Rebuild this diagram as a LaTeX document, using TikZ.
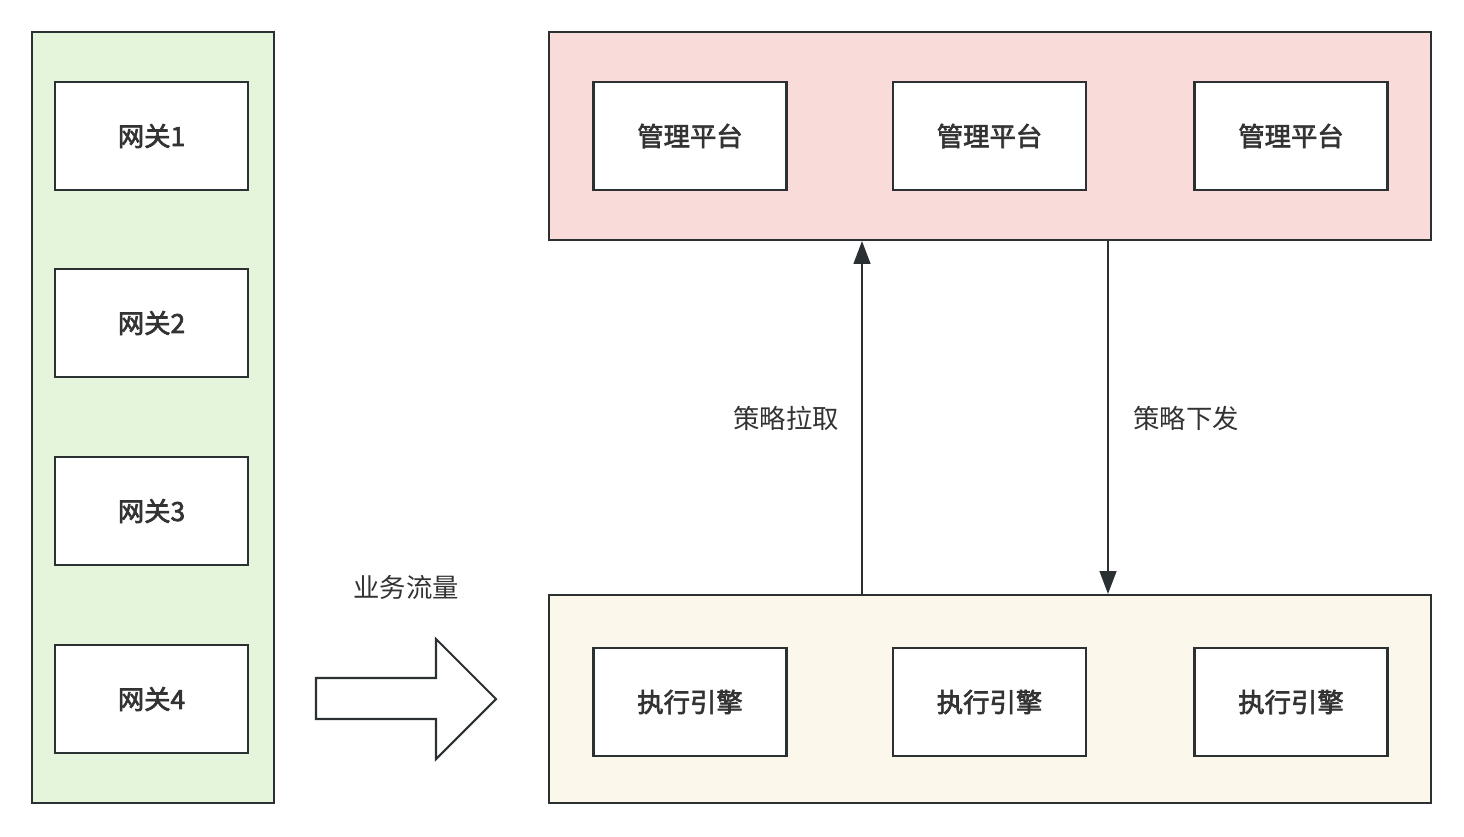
\documentclass[tikz,border=0pt]{standalone}
\usepackage{fontspec}
\setmainfont{Noto Sans CJK SC}
\newfontfamily\medfont[FakeBold=2.5]{Noto Sans CJK SC}
\usetikzlibrary{arrows.meta}
\definecolor{strk}{HTML}{2B3033}
\definecolor{txt}{HTML}{333333}
\definecolor{gfill}{HTML}{E4F5DC}
\definecolor{pfill}{HTML}{F9DCDA}
\definecolor{yfill}{HTML}{FBF7EA}
\tikzset{
  px/.style={x=0.02cm,y=-0.02cm},
  grp/.style={draw=strk,line width=1.2pt},
  box/.style={draw=strk,line width=1.2pt,fill=white,minimum width=3.86cm,minimum height=2.16cm,inner sep=0pt,font=\fontsize{15}{17}\selectfont\medfont,text=txt},
  lbl/.style={font=\fontsize{15}{17}\selectfont,text=txt,inner sep=0pt},
  conn/.style={draw=strk,line width=1.2pt,-{Triangle[length=13pt,width=9.5pt]}},
}
\begin{document}
\begin{tikzpicture}[px]
\useasboundingbox (0,0) rectangle (1464,836);
% groups
\node[grp,fill=gfill,minimum width=4.84cm,minimum height=15.42cm,inner sep=0pt] (G) at (153,417.5) {};
\node[grp,fill=pfill,minimum width=17.64cm,minimum height=4.16cm,inner sep=0pt] (P) at (990,136) {};
\node[grp,fill=yfill,minimum width=17.64cm,minimum height=4.16cm,inner sep=0pt] (Y) at (990,699) {};
% gateways
\node[box] (g1) at (151.5,136) {网关1};
\node[box] (g2) at (151.5,323) {网关2};
\node[box] (g3) at (151.5,511) {网关3};
\node[box] (g4) at (151.5,699) {网关4};
% management
\node[box] (m1) at (690,136) {管理平台};
\node[box] (m2) at (989.5,136) {管理平台};
\node[box] (m3) at (1291,136) {管理平台};
% engines
\node[box] (e1) at (690,702) {执行引擎};
\node[box] (e2) at (989.5,702) {执行引擎};
\node[box] (e3) at (1291,702) {执行引擎};
% connectors
\coordinate (upS) at (862,595);
\coordinate (upE) at (862,241);
\coordinate (dnS) at (1108,241);
\coordinate (dnE) at (1108,594);
\draw[conn] (upS) -- (upE);
\draw[conn] (dnS) -- (dnE);
\node[lbl] (l1) at (786,418) {策略拉取};
\node[lbl] (l2) at (1186,418) {策略下发};
% big arrow
\draw[draw=strk,fill=white,line width=1.2pt,line join=miter]
  (316,678) -- (436,678) -- (436,639) -- (496,699) -- (436,759) -- (436,719) -- (316,719) -- cycle;
\node[lbl] (l3) at (406,587) {业务流量};
\end{tikzpicture}
\end{document}
